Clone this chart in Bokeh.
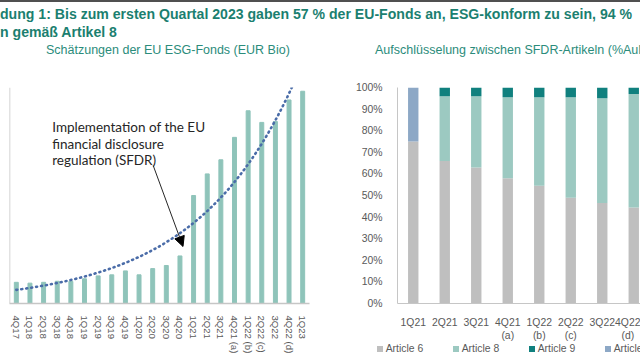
import numpy as np
from bokeh.plotting import figure
from bokeh.models import (Div, Range1d, FactorRange, FixedTicker, Label, Arrow, NormalHead,
                          PrintfTickFormatter, ColumnDataSource, Span)
from bokeh.layouts import column, row
from bokeh.embed import file_html
from bokeh.resources import INLINE

# ---------------- data ----------------
title_line1 = "dung 1: Bis zum ersten Quartal 2023 gaben 57 % der EU-Fonds an, ESG-konform zu sein, 94 %"
title_line2 = "n gemäß Artikel 8"
left_subtitle = "Schätzungen der EU ESG-Fonds (EUR Bio)"
right_subtitle = "Aufschlüsselung zwischen SFDR-Artikeln (%AuM)"
annotation_lines = ["Implementation of the EU", "financial disclosure", "regulation (SFDR)"]

l_cats = ["4Q17", "1Q18", "2Q18", "3Q18", "4Q18", "1Q19", "2Q19", "3Q19", "4Q19",
          "1Q20", "2Q20", "3Q20", "4Q20", "1Q21", "2Q21", "3Q21", "4Q21 (a)",
          "1Q22 (b)", "2Q22 (c)", "3Q22", "4Q22 (d)", "1Q23"]
l_vals = [510, 490, 510, 535, 530, 595, 665, 690, 785, 690, 840, 915, 1145,
          2600, 3120, 3460, 4000, 4640, 4360, 4380, 4900, 5110]

r_labels = ["1Q21", "2Q21", "3Q21", "4Q21\n(a)", "1Q22\n(b)", "2Q22\n(c)", "3Q22", "4Q22\n(d)"]
art6 = [75, 66, 63, 58, 54.5, 49, 46.5, 44.5]
art8 = [0, 30, 33, 37.5, 41, 46.5, 48.5, 52.5]
art9 = [0, 4, 4, 4.5, 4.5, 4.5, 5, 3]
art89 = [25, 0, 0, 0, 0, 0, 0, 0]
r_series = ["Article 6", "Article 8", "Article 9", "Article 8/9"]
r_colors = ["#BFBFBF", "#9CC9C1", "#10807E", "#8DA8C6"]
pct_ticks = [0, 10, 20, 30, 40, 50, 60, 70, 80, 90, 100]

FONT = "Liberation Sans"
GRAY = "#595959"
AXIS = "#C6C6C6"

# ---------------- header ----------------
html = f"""
<div style="position:relative;width:640px;height:60px;overflow:hidden;box-sizing:border-box;border-top:2px solid #505050;font-family:'{FONT}',Arial,sans-serif;">
  <div style="position:absolute;left:0;top:3px;line-height:18px;font-size:14.1px;font-weight:bold;color:#1B7F70;white-space:nowrap;">{title_line1}</div>
  <div style="position:absolute;left:0;top:21px;line-height:18px;font-size:14.1px;font-weight:bold;color:#1B7F70;white-space:nowrap;">{title_line2}</div>
  <div style="position:absolute;left:46px;top:40px;line-height:16px;font-size:12.5px;color:#2B8C7B;white-space:nowrap;">{left_subtitle}</div>
  <div style="position:absolute;left:375px;top:40px;line-height:16px;font-size:12.5px;color:#2B8C7B;white-space:nowrap;">{right_subtitle}</div>
</div>
"""
header = Div(text=html, width=640, height=60, margin=0)

# ---------------- left chart ----------------
p1 = figure(width=330, height=300, x_range=FactorRange(*l_cats), y_range=Range1d(0, 5200),
            output_backend="svg", toolbar_location=None,
            min_border_left=9, min_border_right=21, min_border_top=27, min_border_bottom=57)
p1.vbar(x=l_cats, top=l_vals, width=0.29, color="#8FC4BA")

# exponential trend line fitted to the series (as the spreadsheet trendline)
idx = np.arange(len(l_vals))
b1, b0 = np.polyfit(idx, np.log(l_vals), 1)
tx = np.linspace(0, len(l_vals) - 1, 300)
p1.line(tx + 0.5, np.exp(b0 + b1 * tx), line_color="#4A6CA8", line_width=2.6,
        line_dash="1 4", line_cap="round")

ys = [176.3, 159.7, 143.7]
for txt, yy in zip(annotation_lines, ys):
    p1.add_layout(Label(x=42.7, y=yy, x_units="screen", y_units="screen",
                        text=txt, text_font="Lato", text_font_size="13.5px",
                        text_color="#262626", text_baseline="middle", text_align="left"))
p1.add_layout(Arrow(x_start=143.7, y_start=138, x_end=173.5, y_end=57,
                    start_units="screen", end_units="screen",
                    line_color="#262626", line_width=1,
                    end=NormalHead(size=10, fill_color="black", line_color="black")))

p1.xaxis.major_label_orientation = "vertical"
p1.xaxis.major_label_text_font = FONT
p1.xaxis.major_label_text_font_size = "9.6px"
p1.xaxis.major_label_text_color = GRAY
p1.xaxis.major_label_standoff = 6
p1.xaxis.major_tick_line_color = None
p1.xaxis.minor_tick_line_color = None
p1.xaxis.axis_line_color = AXIS
p1.xaxis.axis_line_width = 1.5
p1.yaxis.visible = False
p1.add_layout(Span(location=0, dimension="height", line_color=AXIS, line_width=1.5))
p1.xgrid.grid_line_color = None
p1.ygrid.grid_line_color = None
p1.outline_line_color = None

# ---------------- right chart ----------------
r_idx = list(range(len(r_labels)))
src = ColumnDataSource(dict(x=r_idx, a6=art6, a8=art8, a9=art9, a89=art89))
p2 = figure(width=310, height=283, x_range=Range1d(-0.5, 7.214), y_range=Range1d(0, 100),
            output_backend="svg", toolbar_location=None,
            min_border_left=67, min_border_right=0, min_border_top=27, min_border_bottom=33)
p2.vbar_stack(["a6", "a8", "a9", "a89"], x="x", width=0.33, source=src,
              color=r_colors, line_color=None)

p2.xaxis.ticker = FixedTicker(ticks=r_idx)
p2.xaxis.major_label_overrides = {i: lab for i, lab in zip(r_idx, r_labels)}
p2.xaxis.major_label_text_font = FONT
p2.xaxis.major_label_text_font_size = "10.4px"
p2.xaxis.major_label_text_color = GRAY
p2.xaxis.major_label_standoff = 7
p2.xaxis.major_tick_line_color = None
p2.xaxis.minor_tick_line_color = None
p2.xaxis.axis_line_color = AXIS
p2.yaxis.ticker = FixedTicker(ticks=pct_ticks)
p2.yaxis.formatter = PrintfTickFormatter(format="%d%%")
p2.yaxis.major_label_text_font = FONT
p2.yaxis.major_label_text_font_size = "10.4px"
p2.yaxis.major_label_text_color = GRAY
p2.yaxis.major_label_standoff = 9
p2.yaxis.major_tick_line_color = None
p2.yaxis.minor_tick_line_color = None
p2.yaxis.axis_line_color = AXIS
p2.xgrid.grid_line_color = None
p2.ygrid.grid_line_color = None
p2.outline_line_color = None

# ---------------- legend strip under the right chart ----------------
leg_x0, leg_pitch = 49.7, 76.0
parts = []
for i, (name, col) in enumerate(zip(r_series, r_colors)):
    kx = leg_x0 + leg_pitch * i
    parts.append(f'<div style="position:absolute;left:{kx - 3:.1f}px;top:3.3px;width:6px;height:6px;background:{col};"></div>')
    parts.append(f'<div style="position:absolute;left:{kx + 6:.1f}px;top:0;line-height:12.6px;font-size:10.4px;color:{GRAY};white-space:nowrap;">{name}</div>')
legend_html = (f'<div style="position:relative;width:310px;height:17px;overflow:hidden;'
               f'font-family:\'{FONT}\',Arial,sans-serif;">' + "".join(parts) + "</div>")
legend_div = Div(text=legend_html, width=310, height=17, margin=0)

layout = column(header, row(p1, column(p2, legend_div)))
open("out.html", "w").write(file_html(layout, INLINE))
